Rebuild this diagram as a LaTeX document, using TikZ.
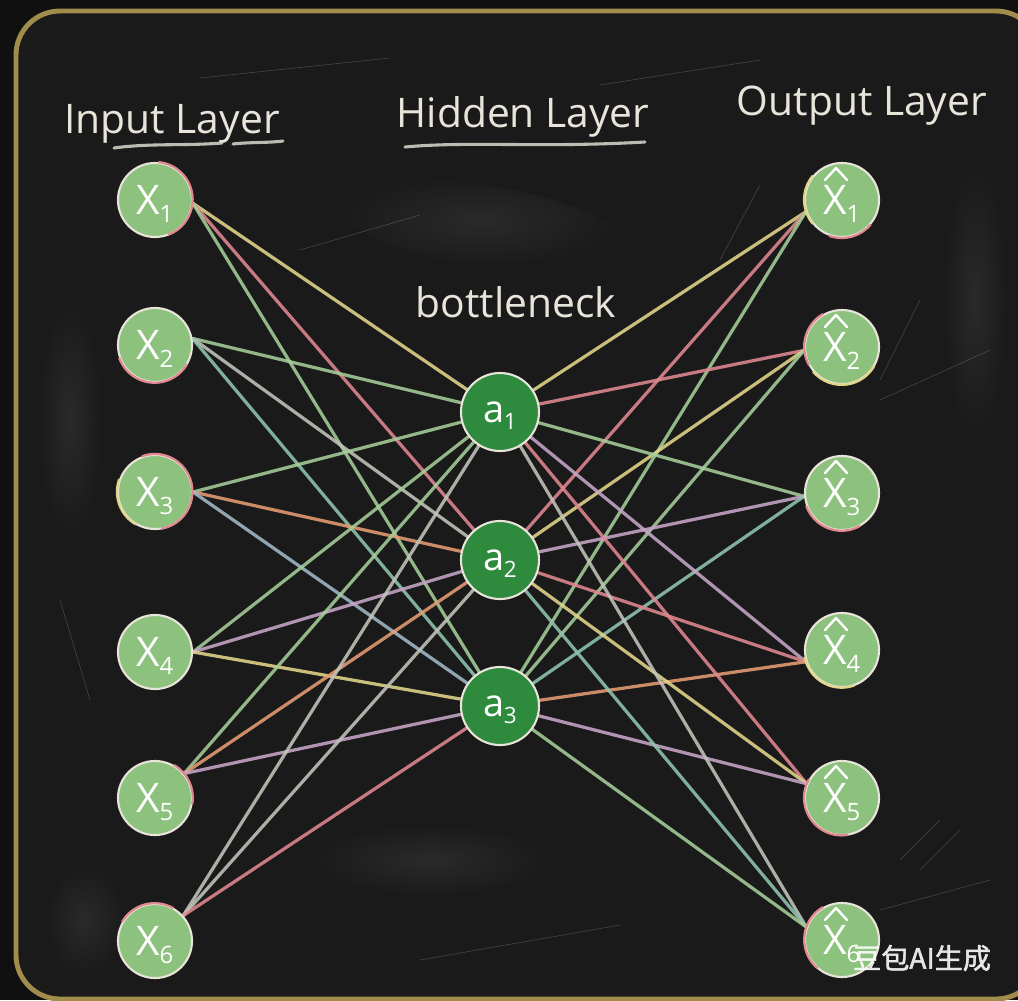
\documentclass[tikz,border=0pt]{standalone}
\usepackage{fontspec}
\setmainfont{Open Sans}
\newfontfamily\cjkfont[FakeBold=1.5]{Noto Sans CJK SC}
\usetikzlibrary{calc}

\definecolor{outerbg}{HTML}{101010}
\definecolor{board}{HTML}{1A1A1A}
\definecolor{dust}{HTML}{2A2A2A}
\definecolor{frame}{HTML}{A18C4C}
\definecolor{chalk}{HTML}{E8E4DA}
\definecolor{lgreen}{HTML}{8CC27E}
\definecolor{dgreen}{HTML}{2E8A3D}
\definecolor{cyellow}{HTML}{E2D58A}
\definecolor{cpink}{HTML}{E08890}
\definecolor{cgreen}{HTML}{A6CD9A}
\definecolor{clav}{HTML}{C7A5C8}
\definecolor{cgray}{HTML}{C2C3BA}
\definecolor{corange}{HTML}{E59C72}
\definecolor{cteal}{HTML}{8FC4AE}
\definecolor{cblue}{HTML}{A2B9C6}

\pgfdeclarelayer{boardlayer}
\pgfdeclarelayer{wirelayer}
\pgfsetlayers{boardlayer,wirelayer,main}

% node label: letter with a lowered index
\newcommand\nlab[3]{#1\kern-0.3pt\raisebox{-5.5pt}{\fontsize{#3}{#3}\selectfont #2}}

\tikzset{
  inode/.style={circle, minimum size=1.85cm, inner sep=0pt, fill=lgreen,
    draw=chalk, line width=1.5pt, text=white, font=\fontsize{29}{29}\selectfont,
    text height=21pt, text depth=0pt},
  hnode/.style={circle, minimum size=1.95cm, inner sep=0pt, fill=dgreen,
    draw=chalk, line width=1.5pt, text=white, font=\fontsize{27}{27}\selectfont,
    text height=14.5pt, text depth=0pt},
  title/.style={anchor=base, text=chalk, font=\fontsize{29}{29}\selectfont},
  wire/.style={line width=2.3pt, opacity=0.88, line cap=round},
  tint/.style={line width=1.6pt},
  hatline/.style={draw=white, line width=1.7pt, line cap=round, line join=round},
  underl/.style={draw=chalk, line width=2.2pt, opacity=0.8, line cap=round},
  scratch/.style={draw=white, opacity=0.2, line width=0.4pt},
}

\begin{document}
\begin{tikzpicture}[x=0.025cm, y=-0.025cm]
\useasboundingbox (0,0) rectangle (1018,1000);

% ---------- board ----------
\begin{pgfonlayer}{boardlayer}
  \fill[outerbg] (0,0) rectangle (1018,1000);
  \fill[board, rounded corners=1.1cm] (16,11) rectangle (1040,999);
  % soft chalk dust
  \shade[inner color=dust, outer color=board, rotate around={-8:(480,225)}]
    (480,225) ellipse [x radius=3.6cm, y radius=1cm];
  \shade[inner color=dust, outer color=board] (70,420) ellipse [x radius=0.8cm, y radius=3cm];
  \shade[inner color=dust, outer color=board] (975,300) ellipse [x radius=0.8cm, y radius=3.5cm];
  \shade[inner color=dust, outer color=board] (430,860) ellipse [x radius=3cm, y radius=0.9cm];
  \shade[inner color=dust, outer color=board] (85,920) ellipse [x radius=1cm, y radius=1.4cm];
  % scratches
  \draw[scratch] (200,78) -- (390,58);
  \draw[scratch] (600,85) -- (760,60);
  \draw[scratch] (300,250) -- (420,215);
  \draw[scratch] (760,185) -- (720,260);
  \draw[scratch] (920,300) -- (880,380);
  \draw[scratch] (880,400) -- (990,350);
  \draw[scratch] (420,960) -- (620,925);
  \draw[scratch] (880,910) -- (990,880);
  \draw[scratch] (900,860) -- (940,820);
  \draw[scratch] (920,870) -- (960,830);
  \draw[scratch] (60,600) -- (90,700);
  % frame
  \draw[frame, line width=3.5pt, rounded corners=1.1cm] (16,11) rectangle (1040,999);
\end{pgfonlayer}

% ---------- titles ----------
\node[title] (tin) at (172,133) {Input Layer};
\node[title] (thid) at (523,127) {Hidden Layer};
\node[title] (tout) at (862,115) {Output Layer};
\node[title] (tbot) at (516,317) {bottleneck};

\draw[underl] (114,148) .. controls (150,143) and (185,146) .. (222,143);
\draw[underl] (233,144) .. controls (250,142) and (268,143) .. (283,141);
\draw[underl] (405,147) .. controls (470,141) and (540,148) .. (645,142);

% ---------- nodes ----------
\node[inode] (x1) at (155,200) {\nlab{X}{1}{17}};
\node[inode] (x2) at (155,345) {\nlab{X}{2}{17}};
\node[inode] (x3) at (155,492) {\nlab{X}{3}{17}};
\node[inode] (x4) at (155,652) {\nlab{X}{4}{17}};
\node[inode] (x5) at (155,798) {\nlab{X}{5}{17}};
\node[inode] (x6) at (155,941) {\nlab{X}{6}{17}};

\node[hnode] (a1) at (500,412) {\nlab{a}{1}{16}};
\node[hnode] (a2) at (500,560) {\nlab{a}{2}{16}};
\node[hnode] (a3) at (500,706) {\nlab{a}{3}{16}};

\node[inode] (o1) at (842,200) {\nlab{X}{1}{17}};
\node[inode] (o2) at (842,347) {\nlab{X}{2}{17}};
\node[inode] (o3) at (842,493) {\nlab{X}{3}{17}};
\node[inode] (o4) at (842,650) {\nlab{X}{4}{17}};
\node[inode] (o5) at (842,798) {\nlab{X}{5}{17}};
\node[inode] (o6) at (842,940) {\nlab{X}{6}{17}};

% hats over the reconstructed outputs
\foreach \o in {o1,o2,o3,o4,o5,o6}{
  \draw[hatline] ($(\o)+(-17,-20)$) -- ($(\o)+(-6,-32)$) -- ($(\o)+(5,-20)$);
}

% coloured chalk on the node rims
\draw[cpink, tint]   (x1.85)  arc[start angle=85,  end angle=-70,  radius=0.94cm];
\draw[cpink, tint]   (x2.200) arc[start angle=200, end angle=330,  radius=0.94cm];
\draw[cpink, tint]   (x3.110) arc[start angle=110, end angle=-80,  radius=0.94cm];
\draw[cyellow, tint] (x3.160) arc[start angle=160, end angle=240,  radius=0.94cm];
\draw[cpink, tint]   (x5.60)  arc[start angle=60,  end angle=-10,  radius=0.94cm];
\draw[cpink, tint]   (x6.150) arc[start angle=150, end angle=60,   radius=0.94cm];
\draw[cyellow, tint] (o1.140) arc[start angle=140, end angle=220,  radius=0.94cm];
\draw[cpink, tint]   (o1.250) arc[start angle=250, end angle=320,  radius=0.94cm];
\draw[cpink, tint]   (o2.120) arc[start angle=120, end angle=210,  radius=0.94cm];
\draw[cyellow, tint] (o2.220) arc[start angle=220, end angle=330,  radius=0.94cm];
\draw[cpink, tint]   (o3.200) arc[start angle=200, end angle=300,  radius=0.94cm];
\draw[cyellow, tint] (o4.190) arc[start angle=190, end angle=290,  radius=0.94cm];
\draw[cpink, tint]   (o5.150) arc[start angle=150, end angle=280,  radius=0.94cm];
\draw[cpink, tint]   (o6.120) arc[start angle=120, end angle=230,  radius=0.94cm];

% ---------- connections ----------
\begin{pgfonlayer}{wirelayer}
  % input -> bottleneck
  \draw[wire, cyellow] (x1.-5) -- (a1);
  \draw[wire, cpink]   (x1.-5) -- (a2);
  \draw[wire, cgreen]  (x1.-5) -- (a3);
  \draw[wire, cgreen]  (x2.10) -- (a1);
  \draw[wire, cgray]   (x2.10) -- (a2);
  \draw[wire, cteal]   (x2.10) -- (a3);
  \draw[wire, cgreen]  (x3.0)  -- (a1);
  \draw[wire, corange] (x3.0)  -- (a2);
  \draw[wire, cblue]   (x3.0)  -- (a3);
  \draw[wire, cgreen]  (x4.0)  -- (a1);
  \draw[wire, clav]    (x4.0)  -- (a2);
  \draw[wire, cyellow] (x4.0)  -- (a3);
  \draw[wire, cgreen]  (x5.40) -- (a1);
  \draw[wire, corange] (x5.40) -- (a2);
  \draw[wire, clav]    (x5.40) -- (a3);
  \draw[wire, cgray]   (x6.42) -- (a1);
  \draw[wire, cgray]   (x6.42) -- (a2);
  \draw[wire, cpink]   (x6.42) -- (a3);
  % bottleneck -> output
  \draw[wire, cyellow] (a1) -- (o1.198);
  \draw[wire, cpink]   (a2) -- (o1.198);
  \draw[wire, cgreen]  (a3) -- (o1.198);
  \draw[wire, cpink]   (a1) -- (o2.185);
  \draw[wire, cyellow] (a2) -- (o2.185);
  \draw[wire, cgreen]  (a3) -- (o2.185);
  \draw[wire, cgreen]  (a1) -- (o3.185);
  \draw[wire, clav]    (a2) -- (o3.185);
  \draw[wire, cteal]   (a3) -- (o3.185);
  \draw[wire, clav]    (a1) -- (o4.198);
  \draw[wire, cpink]   (a2) -- (o4.198);
  \draw[wire, corange] (a3) -- (o4.198);
  \draw[wire, cpink]   (a1) -- (o5.158);
  \draw[wire, cyellow] (a2) -- (o5.158);
  \draw[wire, clav]    (a3) -- (o5.158);
  \draw[wire, cgray]   (a1) -- (o6.160);
  \draw[wire, cteal]   (a2) -- (o6.160);
  \draw[wire, cgreen]  (a3) -- (o6.160);
\end{pgfonlayer}

% ---------- mark ----------
\node[text=white, opacity=0.88, font=\cjkfont\fontsize{20}{20}\selectfont] (mark) at (922,958) {豆包AI生成};

\end{tikzpicture}
\end{document}
